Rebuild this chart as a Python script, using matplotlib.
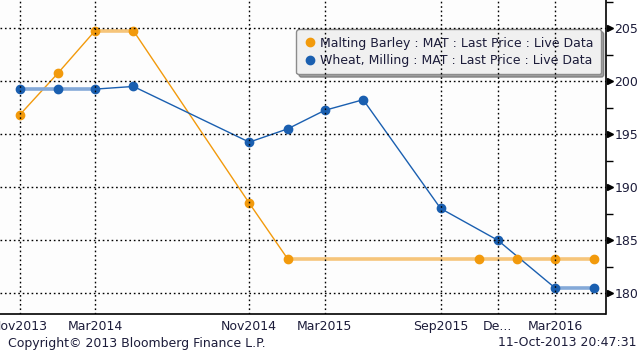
import datetime as dt
import matplotlib
matplotlib.use("Agg")
import matplotlib.pyplot as plt
import matplotlib.dates as mdates
import matplotlib.ticker as ticker
import matplotlib.transforms as mtransforms

# Malting Barley : MAT : Last Price
barley_dates = ["2013-11-01", "2014-01-01", "2014-03-01", "2014-05-01", "2014-11-01",
                "2015-01-01", "2015-11-01", "2016-01-01", "2016-03-01", "2016-05-01"]
barley_px = [196.8, 200.75, 204.75, 204.75, 188.5, 183.25, 183.25, 183.25, 183.25, 183.25]

# Wheat, Milling : MAT : Last Price
wheat_dates = ["2013-11-01", "2014-01-01", "2014-03-01", "2014-05-01", "2014-11-01",
               "2015-01-01", "2015-03-01", "2015-05-01", "2015-09-01", "2015-12-01",
               "2016-03-01", "2016-05-01"]
wheat_px = [199.25, 199.25, 199.25, 199.5, 194.25, 195.5, 197.25, 198.25, 188.0, 185.0,
            180.5, 180.5]

tick_dates = ["2013-11-01", "2014-03-01", "2014-11-01", "2015-03-01", "2015-09-01",
              "2015-12-01", "2016-03-01"]
tick_labels = ["Nov2013", "Mar2014", "Nov2014", "Mar2015", "Sep2015", "De...", "Mar2016"]
y_major = [180, 185, 190, 195, 200, 205]

legend_labels = ["Malting Barley : MAT : Last Price : Live Data",
                 "Wheat, Milling : MAT : Last Price : Live Data"]

ORANGE, ORANGE_LT = "#f29a0c", "#f6c57a"
BLUE, BLUE_LT = "#1a5fb0", "#84a9d8"
TXT = "#1c1c3a"


def to_num(ds):
    return mdates.date2num([dt.datetime.strptime(d, "%Y-%m-%d") for d in ds])


fig = plt.figure(figsize=(6.44, 3.55), dpi=100)
fig.patch.set_facecolor("white")
ax = fig.add_axes([0.0, 41 / 355, 605.5 / 644, 314 / 355])
ax.set_facecolor("#fdfdfd")


def draw(xs, ys, c, c_lt, label):
    # flat stretches are drawn thicker and lighter, like the terminal does
    for i in range(len(xs) - 1):
        flat = ys[i] == ys[i + 1]
        ax.plot(xs[i:i + 2], ys[i:i + 2], color=c_lt if flat else c,
                lw=2.6 if flat else 1.0, zorder=2, solid_capstyle="butt")
    ax.plot(xs, ys, ls="none", marker="o", ms=6, color=c, mec=c, zorder=2.2, label=label)


draw(to_num(barley_dates), barley_px, ORANGE, ORANGE_LT, legend_labels[0])
draw(to_num(wheat_dates), wheat_px, BLUE, BLUE_LT, legend_labels[1])

ax.set_xlim(to_num(["2013-10-01"])[0], to_num(["2016-05-20"])[0])
ax.set_ylim(178.05, 207.65)

ax.set_xticks(to_num(tick_dates))
ax.set_xticklabels(tick_labels)
ax.yaxis.tick_right()
ax.set_yticks(y_major)
ax.yaxis.set_minor_locator(ticker.MultipleLocator(2.5))
ax.tick_params(axis="x", length=0, pad=4, labelsize=9, labelcolor=TXT)
ax.tick_params(axis="y", which="major", length=0, pad=6.5, labelsize=9, labelcolor=TXT)
ax.tick_params(axis="y", which="minor", length=5, width=1, color="black")

# arrow-head major ticks just right of the spine
trans = mtransforms.blended_transform_factory(ax.transAxes, ax.transData)
ax.plot([1.0075] * len(y_major), y_major, ls="none", marker=">", ms=5, color="black",
        transform=trans, clip_on=False, zorder=5)

ax.set_axisbelow(False)
ax.grid(True, which="major", color="black", ls=(0, (1.2, 2.0)), lw=1.0)

for s in ["top", "left"]:
    ax.spines[s].set_visible(False)
ax.spines["right"].set_color("black")
ax.spines["bottom"].set_color("black")
ax.spines["right"].set_linewidth(1.2)
ax.spines["bottom"].set_linewidth(1.2)

leg = ax.legend(loc="upper right", bbox_to_anchor=(601 / 605.5, 1 - 29 / 314),
                fontsize=9, frameon=True, fancybox=True, shadow=True,
                handletextpad=0.3, handlelength=1.0, borderpad=0.6,
                labelspacing=0.35, borderaxespad=0.0)
leg.get_frame().set_facecolor("#f0f0f0")
leg.get_frame().set_edgecolor("#8c8c8c")
leg.get_frame().set_alpha(1)
for t in leg.get_texts():
    t.set_color(TXT)
leg.set_zorder(2.4)

fig.text(8 / 644, 1 - 343 / 355, "Copyright\u00a9 2013 Bloomberg Finance L.P.",
         fontsize=9, color=TXT, va="center", ha="left")
fig.text(636 / 644, 1 - 343 / 355, "11-Oct-2013 20:47:31",
         fontsize=9, color=TXT, va="center", ha="right")

fig.savefig("out.png", dpi=100)
